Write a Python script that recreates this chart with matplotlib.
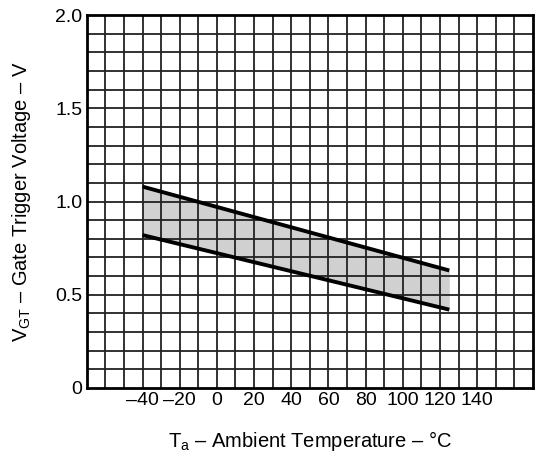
import numpy as np
import matplotlib
matplotlib.use('Agg')
import matplotlib.pyplot as plt

plt.rcParams['font.family'] = ['Liberation Sans', 'DejaVu Sans']
plt.rcParams['mathtext.fontset'] = 'custom'
plt.rcParams['mathtext.rm'] = 'Liberation Sans'

# Band limits (temperature in degC, gate trigger voltage in V)
temp = [-40, 125]
vgt_max = [1.08, 0.63]
vgt_min = [0.82, 0.42]

x_ticks = [-40, -20, 0, 20, 40, 60, 80, 100, 120, 140]
y_ticks = [0, 0.5, 1.0, 1.5, 2.0]
y_labels = ['0', '0.5', '1.0', '1.5', '2.0']

fig = plt.figure(figsize=(5.37, 4.58), dpi=100)
ax = fig.add_axes([0.1615, 0.153, 0.831, 0.814])

ax.set_xlim(-70, 170)
ax.set_ylim(0, 2.0)

# grid every 10 degC / 0.1 V
for gx in np.arange(-60, 170, 10):
    ax.axvline(gx, color='#222222', lw=1.3, zorder=1)
for gy in np.arange(0.1, 2.0, 0.1):
    ax.axhline(gy, color='#222222', lw=1.3, zorder=1)

# shaded band sits under the grid, like the printed stipple
ax.fill_between(temp, vgt_min, vgt_max, color='#d0d0d0', lw=0, zorder=0.5)
ax.plot(temp, vgt_max, color='black', lw=2.8, solid_capstyle='butt', zorder=3)
ax.plot(temp, vgt_min, color='black', lw=2.8, solid_capstyle='butt', zorder=3)

ax.set_xticks(x_ticks)
ax.set_xticklabels([str(t).replace('-', '\u2013') for t in x_ticks])
ax.set_yticks(y_ticks)
ax.set_yticklabels(y_labels)
ax.tick_params(length=0, labelsize=14, colors='black', pad=3)

for s in ax.spines.values():
    s.set_linewidth(2)
    s.set_color('black')

ax.set_xlabel('T$_{\\mathrm{a}}$ \u2013 Ambient Temperature \u2013 \u00b0C', fontsize=14.5, labelpad=14)
ax.set_ylabel('V$_{\\mathrm{GT}}$ \u2013 Gate Trigger Voltage \u2013 V', fontsize=14.5, labelpad=16)

fig.savefig('out.png', dpi=100)
